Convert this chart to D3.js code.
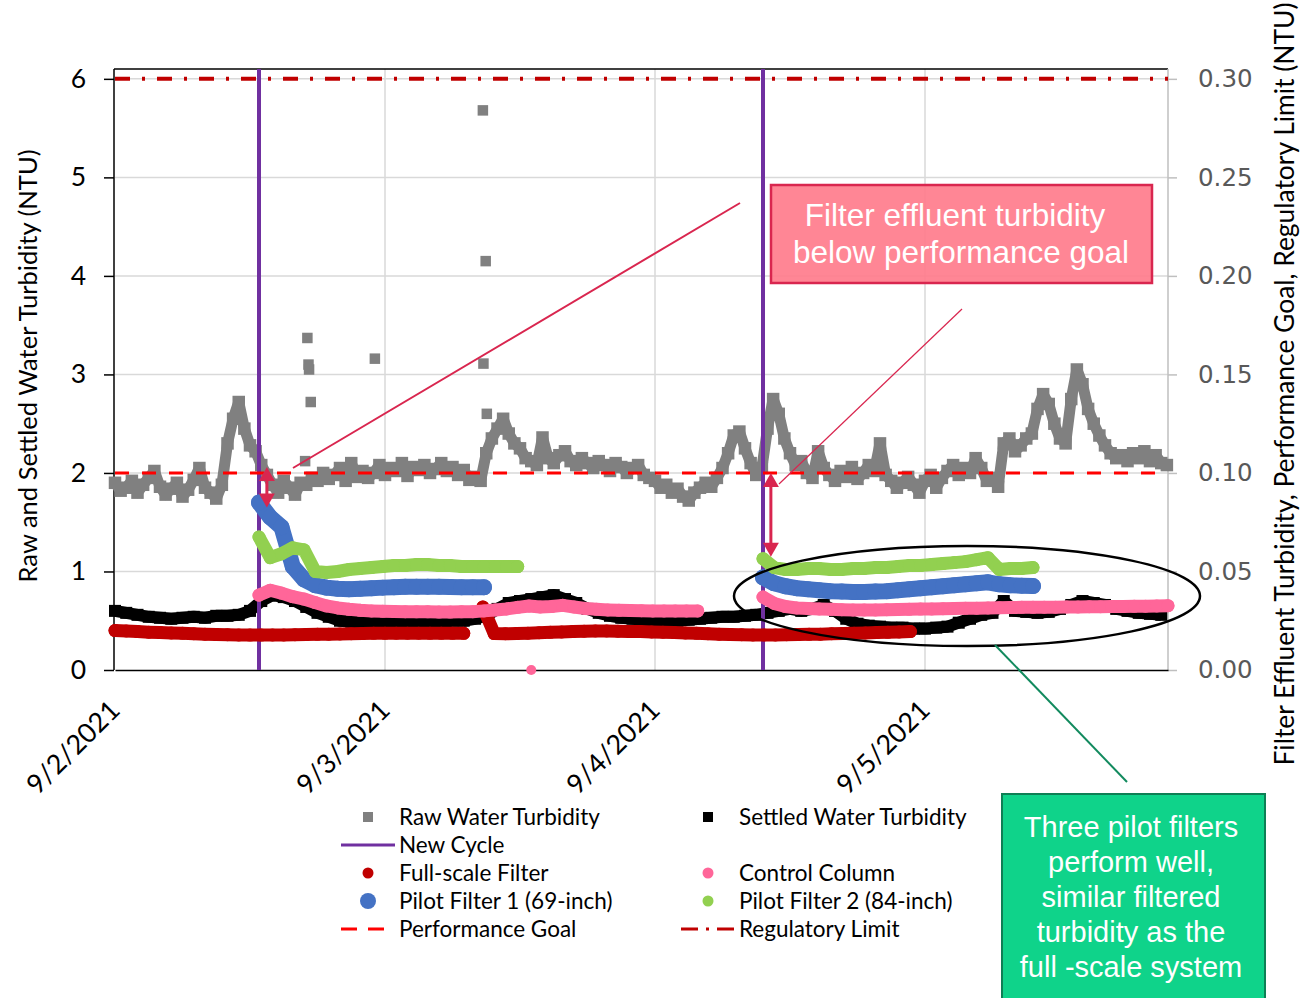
<!DOCTYPE html>
<html>
<head>
<meta charset="utf-8">
<script src="https://cdn.jsdelivr.net/npm/d3@7"></script>
<style>
    body { margin: 0; background: #fff; }
    svg { display: block; }
</style>
</head>
<body>
<svg id="chart" width="1311" height="998"></svg>
<script>
    'use strict';

    // ---- data (hours counted from 9/2/2021 00:00) ----
    const dateTicks = ['2021-09-02', '2021-09-03', '2021-09-04', '2021-09-05'];
    const leftTicks = [0, 1, 2, 3, 4, 5, 6];
    const rightTicks = [0, 0.05, 0.10, 0.15, 0.20, 0.25, 0.30];

    // raw water, every 30 min from 00:00
    const rawWater = [
        1.90, 1.82, 1.85, 1.92, 1.80, 1.88, 1.95, 2.02, 1.86, 1.78, 1.84, 1.90, 1.76, 1.83, 1.93, 2.05, 1.85, 1.80, 1.74, 1.88,
        2.30, 2.55, 2.72, 2.45, 2.28, 2.22,
        2.08, 1.98, 1.88, 1.80, 1.92, 1.85, 1.78, 1.90,
        1.88, 1.95, 1.92, 2.00, 1.94, 1.98, 2.05, 1.92, 2.10, 1.96, 2.02, 1.95, 2.00, 2.08,
        1.98, 2.05, 2.02, 2.10, 1.97, 2.06, 2.03, 2.08, 2.00, 2.04, 2.10, 2.02, 2.06, 1.98, 2.03, 1.93, 1.96, 1.92,
        2.20, 2.35, 2.45, 2.55, 2.40, 2.30, 2.25, 2.15, 2.12, 2.08,
        2.36, 2.15, 2.10, 2.18, 2.22, 2.12, 2.08, 2.15, 2.10, 2.05, 2.12, 2.08, 2.02, 2.10, 2.06, 2.00, 2.05, 2.08, 1.98, 1.95,
        1.92, 1.85, 1.88, 1.80, 1.84, 1.76, 1.72, 1.80, 1.85, 1.90, 1.86, 1.95, 2.05,
        2.20, 2.38, 2.42, 2.25, 2.10, 1.98, 2.05,
        2.45, 2.75, 2.60, 2.35, 2.20,
        2.08, 2.12, 2.00, 1.95, 2.22, 2.05, 1.98, 1.92, 2.02, 1.96, 2.06, 1.94, 2.00, 2.08, 2.02, 2.30, 1.98, 1.92, 1.85, 1.90, 1.96, 1.88, 1.80,
        1.92, 1.98, 1.85, 1.95, 2.02, 2.08, 1.98, 2.05, 2.00, 2.15, 2.05, 1.92, 1.95, 1.86,
        2.30, 2.35, 2.22, 2.28, 2.35, 2.40,
        2.65, 2.80, 2.70, 2.50,
        2.35, 2.30,
        2.75, 3.05, 2.90,
        2.65, 2.50, 2.38, 2.28, 2.20, 2.15,
        2.18, 2.12, 2.20, 2.15, 2.22, 2.12, 2.18, 2.10, 2.08
    ];
    // [hour, NTU]
    const rawSpikes = [
        [16.9, 2.12], [17.1, 3.37], [17.2, 3.10], [17.25, 3.05], [17.4, 2.72], [23.1, 3.16],
        [32.7, 5.68], [32.75, 3.11], [32.95, 4.15], [33.05, 2.60]
    ];

    // settled water, hourly from 00:00
    const settledWater = [
        0.60, 0.58, 0.56, 0.54, 0.53, 0.52, 0.53, 0.54, 0.53, 0.55,
        0.55, 0.56, 0.60, 0.70, 0.76, 0.74, 0.70, 0.64, 0.58, 0.54,
        0.50, 0.49, 0.48, 0.48, 0.48, 0.47, 0.48, 0.49, 0.48, 0.49,
        0.50, 0.50, 0.52, 0.55, 0.62, 0.68, 0.70, 0.72, 0.74, 0.76,
        0.72, 0.68, 0.62, 0.58, 0.55, 0.53, 0.52, 0.51, 0.50, 0.50,
        0.50, 0.51, 0.52, 0.53, 0.54, 0.54, 0.55, 0.56, 0.58, 0.60,
        0.62, 0.60, 0.62, 0.66, 0.60, 0.52, 0.47, 0.45, 0.44, 0.43,
        0.43, 0.42, 0.42, 0.43, 0.44, 0.48, 0.52, 0.56, 0.58, 0.70,
        0.60, 0.59, 0.58, 0.59, 0.62, 0.66, 0.70, 0.68, 0.66, 0.62,
        0.60, 0.58, 0.57, 0.56
    ];

    // filter effluent (right axis), hourly
    const fullScaleA = [
        0.0200, 0.0198, 0.0195, 0.0192, 0.0190, 0.0188, 0.0186, 0.0184, 0.0182, 0.0180,
        0.0179, 0.0178, 0.0177, 0.0177, 0.0178, 0.0178, 0.0179, 0.0180, 0.0181, 0.0182,
        0.0183, 0.0184, 0.0185, 0.0186, 0.0186, 0.0187, 0.0187, 0.0187, 0.0186, 0.0186,
        0.0186, 0.0186
    ];
    const fullScaleB = [
        0.0320, 0.0185, 0.0184, 0.0185, 0.0187, 0.0189, 0.0191, 0.0193, 0.0195, 0.0197,
        0.0198, 0.0198, 0.0197, 0.0196, 0.0195, 0.0193, 0.0192, 0.0190, 0.0188, 0.0186,
        0.0184, 0.0182, 0.0180, 0.0179, 0.0178, 0.0178, 0.0178, 0.0179, 0.0180, 0.0181,
        0.0182, 0.0184, 0.0185, 0.0187, 0.0188, 0.0190, 0.0191, 0.0193, 0.0195
    ];
    const controlA = [
        0.0380, 0.0405, 0.0390, 0.0372, 0.0360, 0.0342, 0.0325, 0.0315, 0.0308, 0.0303,
        0.0300, 0.0298, 0.0297, 0.0296, 0.0295, 0.0295, 0.0294, 0.0294, 0.0295, 0.0296,
        0.0300, 0.0305, 0.0310, 0.0318, 0.0325, 0.0320, 0.0322, 0.0328, 0.0320, 0.0312,
        0.0308, 0.0305, 0.0303, 0.0302, 0.0301, 0.0300, 0.0300, 0.0300, 0.0300, 0.0300
    ];
    const controlB = [
        0.0370, 0.0338, 0.0322, 0.0315, 0.0312, 0.0310, 0.0308, 0.0306, 0.0305, 0.0305,
        0.0305, 0.0306, 0.0307, 0.0308, 0.0309, 0.0310, 0.0311, 0.0312, 0.0313, 0.0314,
        0.0315, 0.0316, 0.0317, 0.0318, 0.0318, 0.0319, 0.0319, 0.0320, 0.0320, 0.0321,
        0.0321, 0.0322, 0.0322, 0.0323, 0.0324, 0.0325, 0.0326
    ];
    const controlOutliers = [[37.0, 0.0]];
    const pilot1A = [
        0.0850, 0.0775, 0.0725, 0.0525, 0.0460, 0.0430, 0.0418, 0.0412, 0.0410, 0.0412,
        0.0415, 0.0418, 0.0420, 0.0422, 0.0422, 0.0423, 0.0422, 0.0421, 0.0420, 0.0420,
        0.0420
    ];
    const pilot1B = [
        0.0470, 0.0440, 0.0425, 0.0415, 0.0410, 0.0405, 0.0400, 0.0398, 0.0396, 0.0396,
        0.0398, 0.0400, 0.0405, 0.0410, 0.0415, 0.0420, 0.0425, 0.0430, 0.0435, 0.0440,
        0.0445, 0.0435, 0.0430, 0.0428, 0.0426
    ];
    const pilot2A = [
        0.0675, 0.0570, 0.0590, 0.0620, 0.0610, 0.0500, 0.0495, 0.0500, 0.0510, 0.0515,
        0.0520, 0.0525, 0.0530, 0.0530, 0.0535, 0.0535, 0.0530, 0.0530, 0.0525, 0.0525,
        0.0525, 0.0525, 0.0525, 0.0525
    ];
    const pilot2B = [
        0.0565, 0.0520, 0.0510, 0.0510, 0.0515, 0.0515, 0.0510, 0.0510, 0.0515, 0.0515,
        0.0520, 0.0520, 0.0525, 0.0530, 0.0530, 0.0535, 0.0540, 0.0545, 0.0550, 0.0560,
        0.0570, 0.0510, 0.0515, 0.0515, 0.0520
    ];

    const newCycleHours = [12.8, 57.6];
    const performanceGoal = 0.10;
    const regulatoryLimit = 0.30;

    // ---- helpers ----
    const start = new Date(2021, 8, 2);
    const at = (h) => new Date(start.getTime() + h * 3600 * 1000);
    const series = (values, h0, step) => values.map((v, i) => ({ t: at(h0 + i * step), v: v }));
    const pairs = (list) => list.map((d) => ({ t: at(d[0]), v: d[1] }));
    const day = (s) => d3.isoParse(s + 'T00:00:00');

    const colors = {
        raw: '#808080',
        settled: '#000000',
        fullScale: '#C00000',
        control: '#FF6699',
        pilot1: '#4472C4',
        pilot2: '#92D050',
        cycle: '#7030A0',
        goal: '#FF0000',
        limit: '#C00000',
        note: '#D9264F'
    };
    const calibri = 'Lato, "Open Sans", sans-serif';
    const arial = '"Liberation Sans", Arial, sans-serif';

    const plot = { left: 115, right: 1168, top: 69, bottom: 670 };

    const x = d3.scaleTime()
        .domain([at(0), at(93.6)])
        .range([plot.left, plot.right]);
    const yL = d3.scaleLinear()
        .domain([0, 6.1])
        .range([plot.bottom, plot.top]);
    const yR = d3.scaleLinear()
        .domain([0, 0.305])
        .range([plot.bottom, plot.top]);

    const svg = d3.select('#chart');
    svg.append('rect').attr('width', 1311).attr('height', 998).attr('fill', '#fff');

    // grid
    const grid = svg.append('g');
    grid.selectAll('.hgrid')
        .data(leftTicks.slice(1))
        .enter().append('line')
            .attr('x1', plot.left).attr('x2', plot.right)
            .attr('y1', (d) => yL(d)).attr('y2', (d) => yL(d))
            .attr('stroke', '#D9D9D9').attr('stroke-width', 1.5);
    grid.selectAll('.vgrid')
        .data(dateTicks.slice(1))
        .enter().append('line')
            .attr('x1', (d) => x(day(d))).attr('x2', (d) => x(day(d)))
            .attr('y1', plot.top).attr('y2', plot.bottom)
            .attr('stroke', '#D9D9D9').attr('stroke-width', 1.5);

    // top frame
    svg.append('line')
        .attr('x1', plot.left - 1).attr('x2', plot.right)
        .attr('y1', plot.top).attr('y2', plot.top)
        .attr('stroke', '#000').attr('stroke-width', 1.5);

    // axes
    const axisL = svg.append('g')
        .attr('transform', `translate(${plot.left - 1}, 0)`)
        .call(d3.axisLeft(yL).tickValues(leftTicks).tickSize(10).tickSizeOuter(0).tickPadding(18)
            .tickFormat(d3.format('d')));
    axisL.select('.domain').attr('stroke', '#000').attr('stroke-width', 1.5)
        .attr('d', `M0,${plot.bottom}V${plot.top}`);
    axisL.selectAll('.tick line').attr('stroke', '#000').attr('stroke-width', 1.5);
    axisL.selectAll('.tick text')
        .attr('font-family', calibri).attr('font-size', 26.5).attr('fill', '#000');

    const axisR = svg.append('g')
        .attr('transform', `translate(${plot.right}, 0)`)
        .call(d3.axisRight(yR).tickValues(rightTicks).tickSize(9).tickSizeOuter(0).tickPadding(21)
            .tickFormat(d3.format('.2f')));
    axisR.select('.domain').attr('stroke', '#BFBFBF').attr('stroke-width', 1.5)
        .attr('d', `M0,${plot.bottom}V${plot.top}`);
    axisR.selectAll('.tick line').attr('stroke', '#BFBFBF').attr('stroke-width', 1.5);
    axisR.selectAll('.tick text')
        .attr('font-family', '"DejaVu Sans", Verdana, sans-serif').attr('font-size', 24.5).attr('fill', '#595959');

    const axisB = svg.append('g')
        .attr('transform', `translate(0, ${plot.bottom})`)
        .call(d3.axisBottom(x)
            .tickValues(dateTicks.map(day))
            .tickSize(0).tickSizeOuter(0)
            .tickFormat(d3.timeFormat('%-m/%-d/%Y')));
    axisB.select('.domain').attr('stroke', '#000').attr('stroke-width', 1.5);
    axisB.selectAll('.tick text')
        .attr('x', 0).attr('y', 0).attr('dy', 0)
        .attr('text-anchor', 'end')
        .attr('transform', 'translate(6, 42) rotate(-45)')
        .attr('font-family', calibri).attr('font-size', 27).attr('fill', '#000');

    // axis titles
    svg.append('text')
        .attr('transform', 'translate(37, 366) rotate(-90)')
        .attr('text-anchor', 'middle')
        .attr('font-family', calibri).attr('font-size', 25.5).attr('fill', '#000')
        .text('Raw and Settled Water Turbidity (NTU)');
    svg.append('text')
        .attr('transform', 'translate(1294, 384) rotate(-90)')
        .attr('text-anchor', 'middle')
        .attr('font-family', calibri).attr('font-size', 26.4).attr('fill', '#000')
        .text('Filter Effluent Turbidity, Performance Goal, Regulatory Limit (NTU)');

    // ---- series ----
    const marks = svg.append('g');

    function squares(data, y, color, size) {
        marks.append('g').selectAll('rect')
            .data(data)
            .enter().append('rect')
                .attr('x', (d) => x(d.t) - size / 2)
                .attr('y', (d) => y(d.v) - size / 2)
                .attr('width', size).attr('height', size)
                .attr('fill', color);
    }

    function band(data, y, color, width, cap) {
        marks.append('path')
            .datum(data)
            .attr('fill', 'none')
            .attr('stroke', color)
            .attr('stroke-width', width)
            .attr('stroke-linejoin', 'round')
            .attr('stroke-linecap', cap || 'round')
            .attr('d', d3.line().x((d) => x(d.t)).y((d) => y(d.v)));
    }

    function dots(data, y, color, r) {
        band(data, y, color, r * 2);
        marks.append('g').selectAll('circle')
            .data(data)
            .enter().append('circle')
                .attr('cx', (d) => x(d.t))
                .attr('cy', (d) => y(d.v))
                .attr('r', r)
                .attr('fill', color);
    }

    const raw = series(rawWater, 0, 0.5);
    band(raw, yL, colors.raw, 11, 'butt');
    squares(raw, yL, colors.raw, 12.5);
    squares(pairs(rawSpikes), yL, colors.raw, 10.5);

    const settled = series(settledWater, 0, 1);
    band(settled, yL, colors.settled, 12, 'butt');
    squares(settled, yL, colors.settled, 12);

    // new cycle
    marks.selectAll('.cycle')
        .data(newCycleHours)
        .enter().append('line')
            .attr('x1', (d) => x(at(d))).attr('x2', (d) => x(at(d)))
            .attr('y1', plot.top).attr('y2', plot.bottom)
            .attr('stroke', colors.cycle).attr('stroke-width', 4);

    dots(series(fullScaleA, 0, 1), yR, colors.fullScale, 6.5);
    dots(series(fullScaleB, 32.7, 1), yR, colors.fullScale, 6.5);
    dots(series(controlA, 12.8, 1), yR, colors.control, 6.5);
    dots(series(controlB, 57.6, 1), yR, colors.control, 6.5);
    marks.append('g').selectAll('circle')
        .data(pairs(controlOutliers))
        .enter().append('circle')
            .attr('cx', (d) => x(d.t)).attr('cy', (d) => yR(d.v))
            .attr('r', 5).attr('fill', colors.control);
    dots(series(pilot1A, 12.8, 1), yR, colors.pilot1, 8);
    dots(series(pilot1B, 57.6, 1), yR, colors.pilot1, 8);
    dots(series(pilot2A, 12.8, 1), yR, colors.pilot2, 6.5);
    dots(series(pilot2B, 57.6, 1), yR, colors.pilot2, 6.5);

    // goal and limit
    marks.append('line')
        .attr('x1', plot.left).attr('x2', plot.right)
        .attr('y1', yR(performanceGoal)).attr('y2', yR(performanceGoal))
        .attr('stroke', colors.goal).attr('stroke-width', 3)
        .attr('stroke-dasharray', '14,13');
    marks.append('line')
        .attr('x1', plot.left).attr('x2', plot.right)
        .attr('y1', yR(regulatoryLimit)).attr('y2', yR(regulatoryLimit))
        .attr('stroke', colors.limit).attr('stroke-width', 4)
        .attr('stroke-dasharray', '15,12,3,12');

    // ---- annotations ----
    const notes = svg.append('g');

    function doubleArrow(h, vTop, vBottom) {
        const ax = x(at(h));
        const y1 = yL(vTop);
        const y2 = yL(vBottom);
        notes.append('line')
            .attr('x1', ax).attr('x2', ax)
            .attr('y1', y1 + 8).attr('y2', y2 - 8)
            .attr('stroke', colors.note).attr('stroke-width', 3);
        notes.append('path')
            .attr('d', `M${ax},${y1}L${ax - 8},${y1 + 14}L${ax + 8},${y1 + 14}Z`)
            .attr('fill', colors.note);
        notes.append('path')
            .attr('d', `M${ax},${y2}L${ax - 8},${y2 - 14}L${ax + 8},${y2 - 14}Z`)
            .attr('fill', colors.note);
    }
    doubleArrow(13.5, 2.06, 1.65);
    doubleArrow(58.3, 2.00, 1.15);

    notes.append('line')
        .attr('x1', 293).attr('y1', 468).attr('x2', 740).attr('y2', 203)
        .attr('stroke', colors.note).attr('stroke-width', 2);
    notes.append('line')
        .attr('x1', 962).attr('y1', 309).attr('x2', 779).attr('y2', 484)
        .attr('stroke', colors.note).attr('stroke-width', 1.2);

    notes.append('rect')
        .attr('x', 771).attr('y', 185).attr('width', 381).attr('height', 98)
        .attr('fill', '#FF7C8C').attr('fill-opacity', 0.92)
        .attr('stroke', colors.note).attr('stroke-width', 2.5);
    notes.append('text')
        .attr('x', 955).attr('y', 226)
        .attr('text-anchor', 'middle')
        .attr('font-family', arial).attr('font-size', 31.5).attr('fill', '#fff')
        .text('Filter effluent turbidity');
    notes.append('text')
        .attr('x', 961).attr('y', 263)
        .attr('text-anchor', 'middle')
        .attr('font-family', arial).attr('font-size', 31.5).attr('fill', '#fff')
        .text('below performance goal');

    notes.append('ellipse')
        .attr('cx', 967).attr('cy', 596).attr('rx', 233).attr('ry', 50)
        .attr('fill', 'none').attr('stroke', '#000').attr('stroke-width', 2.5);
    notes.append('line')
        .attr('x1', 995).attr('y1', 645).attr('x2', 1127).attr('y2', 782)
        .attr('stroke', '#128A5E').attr('stroke-width', 2);

    notes.append('rect')
        .attr('x', 1002).attr('y', 794).attr('width', 263).attr('height', 210)
        .attr('fill', '#0FD38A')
        .attr('stroke', '#0E7F55').attr('stroke-width', 2);
    const greenLines = ['Three pilot filters', 'perform well,', 'similar filtered', 'turbidity as the', 'full -scale system'];
    notes.selectAll('.green-text')
        .data(greenLines)
        .enter().append('text')
            .attr('x', 1131)
            .attr('y', (d, i) => 837 + i * 35)
            .attr('text-anchor', 'middle')
            .attr('font-family', arial).attr('font-size', 29).attr('fill', '#fff')
            .text((d) => d);

    // ---- legend ----
    const legendItems = [
        { label: 'Raw Water Turbidity', kind: 'square', color: colors.raw, size: 10, col: 0, row: 0 },
        { label: 'Settled Water Turbidity', kind: 'square', color: colors.settled, size: 10, col: 1, row: 0 },
        { label: 'New Cycle', kind: 'line', color: colors.cycle, col: 0, row: 1 },
        { label: 'Full-scale Filter', kind: 'circle', color: colors.fullScale, size: 5.5, col: 0, row: 2 },
        { label: 'Control Column', kind: 'circle', color: colors.control, size: 5.5, col: 1, row: 2 },
        { label: 'Pilot Filter 1 (69-inch)', kind: 'circle', color: colors.pilot1, size: 8, col: 0, row: 3 },
        { label: 'Pilot Filter 2 (84-inch)', kind: 'circle', color: colors.pilot2, size: 5.5, col: 1, row: 3 },
        { label: 'Performance Goal', kind: 'dash', color: colors.goal, col: 0, row: 4 },
        { label: 'Regulatory Limit', kind: 'dashdot', color: colors.limit, col: 1, row: 4 }
    ];
    const legendCols = [368, 708];
    const legendRow0 = 817;
    const legendRowStep = 28;

    const legend = svg.append('g');
    legendItems.forEach((d) => {
        const cx = legendCols[d.col];
        const cy = legendRow0 + d.row * legendRowStep;
        if (d.kind === 'square') {
            legend.append('rect')
                .attr('x', cx - d.size / 2).attr('y', cy - d.size / 2)
                .attr('width', d.size).attr('height', d.size)
                .attr('fill', d.color);
        } else if (d.kind === 'circle') {
            legend.append('circle')
                .attr('cx', cx).attr('cy', cy).attr('r', d.size)
                .attr('fill', d.color);
        } else {
            const ln = legend.append('line')
                .attr('x1', cx - 27).attr('x2', cx + 27)
                .attr('y1', cy).attr('y2', cy)
                .attr('stroke', d.color).attr('stroke-width', 3);
            if (d.kind === 'dash') ln.attr('stroke-dasharray', '16,11');
            if (d.kind === 'dashdot') ln.attr('stroke-dasharray', '17,8,3,8');
        }
        legend.append('text')
            .attr('x', cx + 31).attr('y', cy)
            .attr('dy', '0.35em')
            .attr('font-family', calibri).attr('font-size', 22.5).attr('fill', '#000')
            .text(d.label);
    });
</script>
</body>
</html>
